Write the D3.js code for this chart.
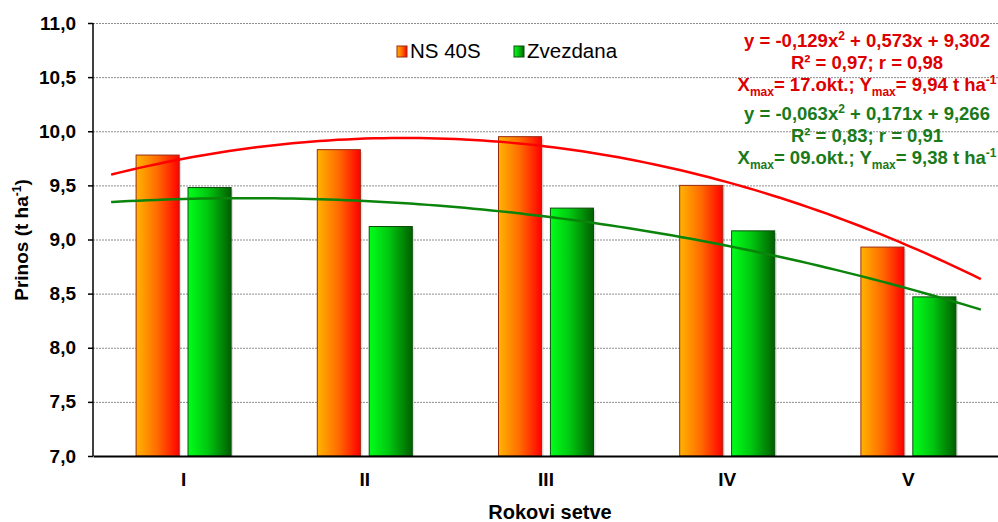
<!DOCTYPE html>
<html>
<head>
<meta charset="utf-8">
<script src="https://cdn.jsdelivr.net/npm/d3@7"></script>
<style>
  body { margin: 0; background: #fff; }
  svg { font-family: "Liberation Sans", Arial, sans-serif; }
  .grid line { stroke: #8c8c8c; stroke-dasharray: 2,1; }
  .grid .domain { display: none; }
</style>
</head>
<body>
<svg width="998" height="522"></svg>
<script>
// data
var categories = ["I", "II", "III", "IV", "V"];
var seriesNames = ["NS 40S", "Zvezdana"];
var ns40s = [9.78, 9.83, 9.95, 9.50, 8.93];
var zvezdana = [9.48, 9.12, 9.29, 9.08, 8.47];
var yTicks = [7.0, 7.5, 8.0, 8.5, 9.0, 9.5, 10.0, 10.5, 11.0];
// trend coefficients shown on the chart (a, b, c for a*x^2 + b*x + c)
var trendNs = [-0.129, 0.573, 9.302];
var trendZv = [-0.063, 0.171, 9.266];

var svg = d3.select("svg"),
    margin = {top: 23, right: 0, bottom: 66, left: 93},
    width = 998 - margin.left - margin.right,
    height = 522 - margin.top - margin.bottom,
    g = svg.append("g").attr("transform", "translate(" + margin.left + "," + margin.top + ")");

var x0 = d3.scaleBand().domain(categories).range([0, width + 1]).padding(0);
var x1 = d3.scaleBand().domain(seriesNames).range([0, x0.bandwidth()])
    .paddingInner(0.17).paddingOuter(0.83);
var y = d3.scaleLinear().domain([7, 11]).range([height, 0]);
// numeric x for trend lines: category i+1 at band centre
var xn = d3.scaleLinear().domain([1, 2])
    .range([x0("I") + x0.bandwidth() / 2, x0("II") + x0.bandwidth() / 2]);

var defs = svg.append("defs");
var gradO = defs.append("linearGradient").attr("id", "gO");
gradO.append("stop").attr("offset", "0%").attr("stop-color", "#ffb400");
gradO.append("stop").attr("offset", "50%").attr("stop-color", "#ff6a00");
gradO.append("stop").attr("offset", "100%").attr("stop-color", "#ff0000");
var gradG = defs.append("linearGradient").attr("id", "gG");
gradG.append("stop").attr("offset", "0%").attr("stop-color", "#00ff1a");
gradG.append("stop").attr("offset", "45%").attr("stop-color", "#00c810");
gradG.append("stop").attr("offset", "100%").attr("stop-color", "#005f00");

var fills = {"NS 40S": "url(#gO)", "Zvezdana": "url(#gG)"};
var strokes = {"NS 40S": "#9a2a10", "Zvezdana": "#0d4d0d"};

// grid
g.append("g")
    .attr("class", "grid")
    .call(d3.axisLeft(y).tickValues(yTicks.slice(1)).tickSize(-width).tickFormat(""));

var rows = categories.map(function(c, i) {
  return {cat: c, values: [{key: "NS 40S", value: ns40s[i]}, {key: "Zvezdana", value: zvezdana[i]}]};
});

var groups = g.append("g").selectAll("g")
  .data(rows)
  .enter().append("g")
    .attr("transform", function(d) { return "translate(" + x0(d.cat) + ",0)"; });

// soft shadow
groups.selectAll("rect.sh")
  .data(function(d) { return d.values; })
  .enter().append("rect")
    .attr("class", "sh")
    .attr("x", function(d) { return x1(d.key) + 2; })
    .attr("y", function(d) { return y(d.value) + 2; })
    .attr("width", x1.bandwidth())
    .attr("height", function(d) { return height - y(d.value) - 2; })
    .attr("fill", "#000")
    .attr("opacity", 0.12);

groups.selectAll("rect.bar")
  .data(function(d) { return d.values; })
  .enter().append("rect")
    .attr("class", "bar")
    .attr("x", function(d) { return x1(d.key); })
    .attr("y", function(d) { return y(d.value); })
    .attr("width", x1.bandwidth())
    .attr("height", function(d) { return height - y(d.value); })
    .attr("fill", function(d) { return fills[d.key]; })
    .attr("stroke", function(d) { return strokes[d.key]; })
    .attr("stroke-width", 1);

// trend lines
function trendPts(c) {
  return d3.range(0.6, 5.401, 0.05).map(function(t) {
    return [t, c[0] * t * t + c[1] * t + c[2]];
  });
}
var line = d3.line()
    .x(function(d) { return xn(d[0]); })
    .y(function(d) { return y(d[1]); })
    .curve(d3.curveBasis);
g.append("path").datum(trendPts(trendNs))
    .attr("d", line).attr("fill", "none").attr("stroke", "#ff0000").attr("stroke-width", 2.5);
g.append("path").datum(trendPts(trendZv))
    .attr("d", line).attr("fill", "none").attr("stroke", "#0a840a").attr("stroke-width", 2.5);

// axes
var yAxis = g.append("g")
    .call(d3.axisLeft(y).tickValues(yTicks).tickSize(5).tickPadding(12)
      .tickFormat(function(d) { return d3.format(".1f")(d).replace(".", ","); }));
yAxis.select(".domain").attr("stroke", "#000").attr("stroke-width", 1.5).attr("d", "M0,0V" + height);
yAxis.selectAll(".tick line").attr("stroke", "#000").attr("stroke-width", 1.5);
yAxis.selectAll("text")
    .attr("font-size", 19).attr("font-weight", "bold").attr("fill", "#000")
    .attr("font-family", "Liberation Sans, Arial, sans-serif");

var xAxis = g.append("g")
    .attr("transform", "translate(0," + height + ")")
    .call(d3.axisBottom(x0).tickSize(0).tickPadding(17));
xAxis.select(".domain").attr("stroke", "#000").attr("stroke-width", 2);
xAxis.selectAll("text")
    .attr("font-size", 19).attr("font-weight", "bold").attr("fill", "#000")
    .attr("font-family", "Liberation Sans, Arial, sans-serif");

svg.append("text")
    .attr("x", 550).attr("y", 519)
    .attr("text-anchor", "middle")
    .attr("font-size", 20).attr("font-weight", "bold")
    .text("Rokovi setve");

var yt = svg.append("text")
    .attr("transform", "translate(28,240) rotate(-90)")
    .attr("text-anchor", "middle")
    .attr("font-size", 19).attr("font-weight", "bold");
yt.append("tspan").text("Prinos (t ha");
yt.append("tspan").attr("font-size", 12).attr("dy", -7).text("-1");
yt.append("tspan").attr("dy", 7).text(")");

// legend
var legend = svg.append("g").selectAll("g")
  .data(seriesNames)
  .enter().append("g")
    .attr("transform", function(d, i) { return "translate(" + (397 + i * 117) + ",46)"; });
legend.append("rect")
    .attr("width", 10).attr("height", 11)
    .attr("fill", function(d) { return fills[d]; })
    .attr("stroke", function(d) { return strokes[d]; });
legend.append("text")
    .attr("x", 13).attr("y", 12)
    .attr("font-size", 20.5)
    .text(function(d) { return d; });

// equations
function eqBlock(y0, color, l1, l2, xmax, ymax) {
  var b = svg.append("g").attr("fill", color).attr("font-weight", "bold")
      .attr("font-size", 18.5).attr("text-anchor", "middle");
  var t1 = b.append("text").attr("x", 867).attr("y", y0);
  t1.append("tspan").text(l1[0]);
  t1.append("tspan").attr("font-size", 12).attr("dy", -7).text("2");
  t1.append("tspan").attr("dy", 7).text(l1[1]);
  b.append("text").attr("x", 867).attr("y", y0 + 22).text(l2);
  var t3 = b.append("text").attr("x", 867).attr("y", y0 + 44);
  t3.append("tspan").text("X");
  t3.append("tspan").attr("font-size", 12).attr("dy", 5).text("max");
  t3.append("tspan").attr("dy", -5).text("= " + xmax + "; Y");
  t3.append("tspan").attr("font-size", 12).attr("dy", 5).text("max");
  t3.append("tspan").attr("dy", -5).text("= " + ymax + " t ha");
  t3.append("tspan").attr("font-size", 12).attr("dy", -7).text("-1");
}
eqBlock(47, "#dc0000", ["y = -0,129x", " + 0,573x + 9,302"], "R\u00b2 = 0,97; r = 0,98", "17.okt.", "9,94");
eqBlock(120, "#1a7a1a", ["y = -0,063x", " + 0,171x + 9,266"], "R\u00b2 = 0,83; r = 0,91", "09.okt.", "9,38");
</script>
</body>
</html>
